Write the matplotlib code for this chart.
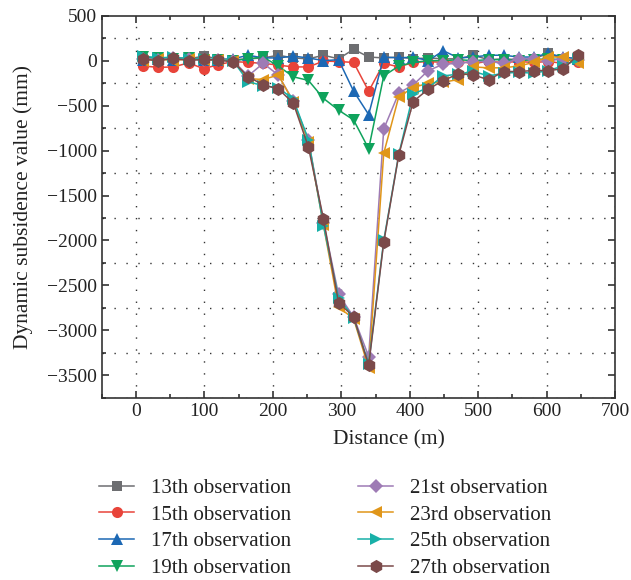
import numpy as np
import matplotlib
matplotlib.use('Agg')
import matplotlib.pyplot as plt
from matplotlib.ticker import MultipleLocator

plt.rcParams['font.family'] = ['Liberation Serif', 'DejaVu Serif']

# distance of each survey point (m)
distance = [11, 33, 55, 77, 99, 120, 142, 164, 186, 208, 230, 252, 274, 296, 318,
            340, 362, 384, 405, 427, 449, 471, 493, 515, 537, 559, 581, 602, 624, 646]

obs13 = [20, 10, 30, 20, 50, 20, 10, 20, 30, 60, 30, 20, 60, 20, 126,
         40, 30, 40, 20, 30, 20, 20, 60, 10, 20, 10, 20, 80, 20, 30]
obs15 = [-60, -75, -70, -25, -90, -45, -10, -20, -30, -50, -70, -70, -5, -10, -20,
         -340, -30, -70, -20, -10, -20, -10, -30, -10, -20, -10, -20, -10, -30, -10]
obs17 = [10, 20, 10, 20, 10, 10, 20, 60, 30, 30, 50, 30, 0, 10, -340,
         -600, 40, 30, 40, 0, 110, 30, 40, 60, 60, 40, 40, 80, 40, 20]
obs19 = [40, 30, 20, 30, 10, 10, 0, 20, 40, -60, -180, -220, -420, -550, -660,
         -980, -170, -60, -20, 0, 0, 10, 0, 10, 10, 0, 10, 20, 10, 0]
obs21 = [20, 10, 30, 20, 10, 10, 0, -170, -30, -160, -450, -880, -1800, -2600, -2850,
         -3290, -760, -360, -270, -110, -40, -30, -10, -10, -30, 20, 20, 0, 20, 10]
obs23 = [0, 20, 0, 20, 10, 10, 0, -200, -210, -160, -460, -900, -1830, -2740, -2870,
         -3420, -1030, -400, -300, -250, -240, -210, -70, -80, -80, -60, -20, 40, 40, -30]
obs25 = [50, 30, 40, 20, 20, 10, 0, -233, -280, -300, -430, -880, -1834, -2637, -2860,
         -3370, -2000, -1040, -370, -300, -170, -150, -120, -170, -140, -130, -140, -110, -60, 20]
obs27 = [15, 0, 26, 0, 15, 5, -14, -178, -270, -314, -473, -961, -1760, -2692, -2847,
         -3388, -2019, -1046, -455, -317, -221, -147, -158, -214, -121, -121, -110, -110, -92, 64]

labels = ['13th observation', '15th observation', '17th observation', '19th observation',
          '21st observation', '23rd observation', '25th observation', '27th observation']
series = [obs13, obs15, obs17, obs19, obs21, obs23, obs25, obs27]
colors = ['#6d6e71', '#e8443a', '#1c68b4', '#0fa35c', '#9e7bb5', '#e0961a', '#18b0a8', '#7b4a4a']
markers = ['s', 'o', '^', 'v', 'D', '<', '>', 'h']
sizes = [7, 8, 8.5, 8.5, 7, 8.5, 8.5, 9.5]

fig = plt.figure(figsize=(6.31, 5.8), dpi=100)
ax = fig.add_axes([0.161, 0.314, 0.814, 0.659])

for y, c, m, s, lab in zip(series, colors, markers, sizes, labels):
    ax.plot(distance, y, color=c, marker=m, markersize=s, lw=1.1, label=lab,
            markeredgewidth=0)

ax.set_xlim(-50, 700)
ax.set_ylim(-3750, 500)
ax.xaxis.set_major_locator(MultipleLocator(100))
ax.xaxis.set_minor_locator(MultipleLocator(50))
ax.yaxis.set_major_locator(MultipleLocator(500))
ax.yaxis.set_minor_locator(MultipleLocator(250))
ax.set_xticks(np.arange(0, 701, 100))

grid_style = dict(color='#333333', lw=1.0, linestyle=(0, (1, 7.6)))
ax.xaxis.grid(True, which='major', **grid_style)
ax.yaxis.grid(True, which='minor', **grid_style)

ax.tick_params(which='both', direction='in', top=True, right=True, labelsize=14,
               colors='#222222', width=1.1)
ax.tick_params(which='major', length=5)
ax.tick_params(which='minor', length=3)
for sp in ax.spines.values():
    sp.set_linewidth(1.2)
    sp.set_color('#333333')

ax.set_xlabel('Distance (m)', fontsize=15.5, color='#222222')
ax.xaxis.set_label_coords(0.56, -0.085)
ax.set_ylabel('Dynamic subsidence value (mm)', fontsize=15.5, color='#222222')
ax.yaxis.set_label_coords(-0.133, 0.5)

fig.legend(loc='upper left', bbox_to_anchor=(0.157, 0.175), ncol=2, frameon=False,
           fontsize=15, handlelength=1.7, handletextpad=0.8, columnspacing=3.2,
           labelspacing=0.34, borderpad=0, borderaxespad=0, labelcolor='#222222')

fig.savefig('out.png', dpi=100)
